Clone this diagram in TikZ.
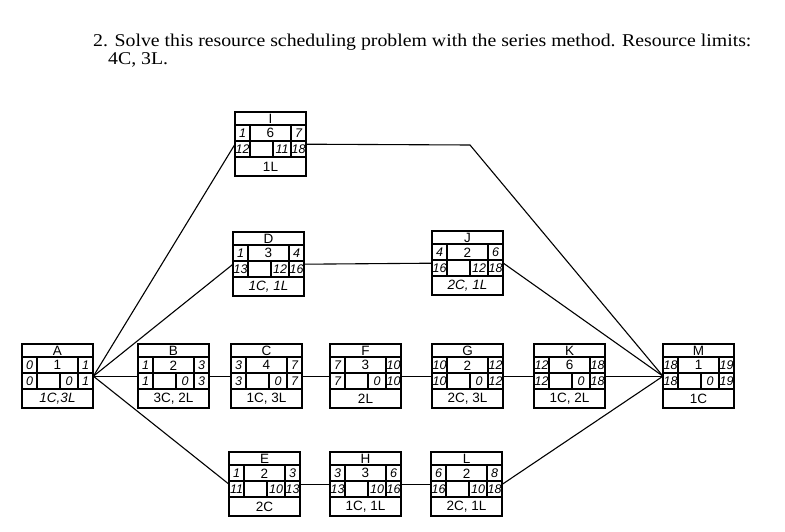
\documentclass[tikz,border=0pt]{standalone}
\usepackage{fontspec}
\setmainfont{Liberation Serif}
\newfontfamily\boxfont{Liberation Sans}
\tikzset{
 boxline/.style={line width=1.7pt},
 conn/.style={line width=1.1pt},
 cell/.style={font=\boxfont\fontsize{13.5}{13.5}\selectfont, inner sep=0},
 hand/.style={font=\boxfont\itshape\fontsize{12.5}{12.5}\selectfont, inner sep=0},
 title/.style={font=\fontsize{18}{18}\selectfont, inner sep=0, anchor=base west},
}
\newcommand\abox[9]{%
 \node[minimum width=71pt,minimum height=64pt,inner sep=0,anchor=north west] (#1) at (#2,#3) {};
 \begin{scope}[shift={(#2,#3)}]
 \draw[boxline] (0,0) rectangle (71,64);
 \draw[boxline] (0,13) -- (71,13) (0,29) -- (71,29) (0,45) -- (71,45)
   (15,13) -- (15,45) (56,13) -- (56,45) (38,29) -- (38,45);
 \node[cell] at (35.5,6.8) {#1};
 \node[hand] at (7.5,21.3) {#4};
 \node[cell] at (35.5,21.3) {#5};
 \node[hand] at (63.5,21.3) {#6};
 \node[hand] at (7.5,37.3) {#7};
 \node[hand] at (47,37.3) {#8};
 \node[hand] at (63.5,37.3) {#9};
 \end{scope}
 \aboxres{#2}{#3}}
\newcommand\aboxres[3]{\node[cell] at (#1+35.5,#2+54.8) {#3};}
\begin{document}
\begin{tikzpicture}[x=1pt,y=-1pt]
\fill[white] (0,0) rectangle (785,532);
\useasboundingbox (0,0) rectangle (785,532);
\node[title] (t1) at (93,47) {\scalebox{1.1}[1]{2. Solve this resource scheduling problem with the series method. Resource limits:}};
\node[title] (t2) at (108,65) {\scalebox{1.1}[1]{4C, 3L.}};
% boxes
\abox{A}{22}{344}{0}{1}{1}{0}{0}{1}{\itshape 1C,3L}
\abox{B}{138}{344}{1}{2}{3}{1}{0}{3}{3C, 2L}
\abox{C}{231}{344}{3}{4}{7}{3}{0}{7}{1C, 3L}
\abox{F}{330}{344}{7}{3}{10}{7}{0}{10}{2L}
\abox{G}{432}{344}{10}{2}{12}{10}{0}{12}{2C, 3L}
\abox{K}{534}{344}{12}{6}{18}{12}{0}{18}{1C, 2L}
\abox{M}{663}{344}{18}{1}{19}{18}{0}{19}{1C}
\abox{I}{235}{112}{1}{6}{7}{12}{11}{18}{1L}
\abox{D}{233}{232}{1}{3}{4}{13}{12}{16}{\itshape 1C, 1L}
\abox{J}{432}{231}{4}{2}{6}{16}{12}{18}{\itshape 2C, 1L}
\abox{E}{229}{452}{1}{2}{3}{11}{10}{13}{2C}
\abox{H}{330}{452}{3}{3}{6}{13}{10}{16}{1C, 1L}
\abox{L}{431}{452}{6}{2}{8}{16}{10}{18}{2C, 1L}
% connectors
\coordinate (Ibend) at (470,145);
\draw[conn] (A.east) -- (I.west);
\draw[conn] (A.east) -- (D.west);
\draw[conn] (A.east) -- (B.west);
\draw[conn] (A.east) -- (E.west);
\draw[conn] (B.east) -- (C.west);
\draw[conn] (C.east) -- (F.west);
\draw[conn] (F.east) -- (G.west);
\draw[conn] (G.east) -- (K.west);
\draw[conn] (K.east) -- (M.west);
\draw[conn] (D.east) -- (J.west);
\draw[conn] (J.east) -- (M.west);
\draw[conn] (I.east) -- (Ibend) -- (M.west);
\draw[conn] (E.east) -- (H.west);
\draw[conn] (H.east) -- (L.west);
\draw[conn] (L.east) -- (M.west);
\end{tikzpicture}
\end{document}
